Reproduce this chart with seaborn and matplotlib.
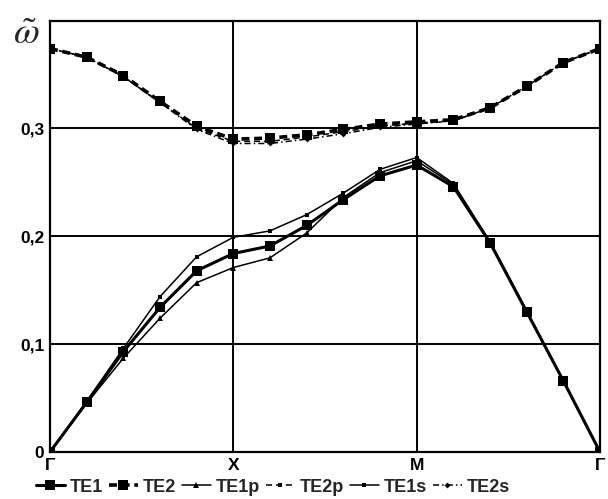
import matplotlib
matplotlib.use("Agg")
import matplotlib.pyplot as plt
import seaborn as sns
import pandas as pd
import numpy as np

sns.set_theme(style="white")
plt.rcParams['font.family'] = ['Liberation Sans', 'DejaVu Sans']

# k-path positions: Γ -> X -> M -> Γ, 5 steps per segment
k_index = list(range(16))
tick_pos = [0, 5, 10, 15]
tick_labels = ["Γ", "X", "M", "Γ"]
y_ticks = [0, 0.1, 0.2, 0.3]
y_tick_labels = ["0", "0,1", "0,2", "0,3"]

TE1 = [0.000, 0.046, 0.093, 0.134, 0.168, 0.184,
       0.191, 0.210, 0.234, 0.256, 0.266,
       0.246, 0.194, 0.130, 0.066, 0.000]
TE2 = [0.374, 0.366, 0.349, 0.325, 0.302, 0.290,
       0.291, 0.294, 0.299, 0.304, 0.306,
       0.308, 0.319, 0.339, 0.361, 0.374]
TE1p = [0.000, 0.045, 0.087, 0.124, 0.157, 0.171,
        0.180, 0.203, 0.236, 0.259, 0.270,
        0.248, 0.195, 0.131, 0.066, 0.000]
TE2p = [0.374, 0.366, 0.348, 0.324, 0.300, 0.288,
        0.288, 0.292, 0.297, 0.302, 0.305,
        0.307, 0.319, 0.339, 0.361, 0.374]
TE1s = [0.000, 0.047, 0.096, 0.144, 0.181, 0.199,
        0.205, 0.220, 0.240, 0.262, 0.273,
        0.249, 0.195, 0.131, 0.066, 0.000]
TE2s = [0.374, 0.366, 0.348, 0.324, 0.299, 0.286,
        0.286, 0.290, 0.295, 0.301, 0.304,
        0.307, 0.319, 0.339, 0.361, 0.374]

series = {"TE1": TE1, "TE2": TE2, "TE1p": TE1p,
          "TE2p": TE2p, "TE1s": TE1s, "TE2s": TE2s}
styles = {
    "TE1":  dict(lw=2.2, ls='-', marker='s', ms=7),
    "TE2":  dict(lw=2.6, ls=(0, (2.2, 1.3)), marker='s', ms=7),
    "TE1p": dict(lw=1.1, ls='-', marker='^', ms=4),
    "TE2p": dict(lw=1.1, ls=(0, (4, 2.5)), marker='s', ms=3),
    "TE1s": dict(lw=1.1, ls='-', marker='s', ms=3),
    "TE2s": dict(lw=1.1, ls=(0, (4, 2, 1, 2)), marker='D', ms=3),
}

fig = plt.figure(figsize=(6.08, 4.99), dpi=100)
ax = fig.add_axes([50/608, 1-452/499, 550/608, (452-20.5)/499])

for name, vals in series.items():
    df = pd.DataFrame({"k": k_index, "w": vals})
    st = styles[name]
    sns.lineplot(data=df, x="k", y="w", ax=ax, color="black",
                 linewidth=st['lw'], linestyle=st['ls'], marker=st['marker'],
                 markersize=st['ms'], markeredgewidth=0, label=name,
                 markerfacecolor='black')

ax.set_xlim(0, 15)
ax.set_ylim(0, 0.4)
ax.set_xticks(tick_pos)
ax.set_xticklabels(tick_labels, fontsize=12.5, fontweight='bold')
ax.set_yticks(y_ticks)
ax.set_yticklabels(y_tick_labels, fontsize=12.5, fontweight='bold')
ax.set_xlabel("")
ax.set_ylabel("")
ax.tick_params(axis='both', length=0, pad=4, colors='black')
ax.grid(True, color='black', linewidth=1.4)
for s in ax.spines.values():
    s.set_color('black')
    s.set_linewidth(1.6)

fig.text(13/608, 1-34/499, r'$\tilde{\omega}$', fontsize=27,
         va='center', ha='left', math_fontfamily='stix')

handles, labels = ax.get_legend_handles_labels()
ax.legend_.remove()
fig.legend(handles, labels, loc='center', bbox_to_anchor=(273/608, 1-487/499),
           ncol=6, frameon=False, handlelength=1.6, handletextpad=0.3,
           columnspacing=0.3, borderpad=0.1,
           prop=dict(weight='bold', size=13))

fig.savefig("out.png", dpi=100)
